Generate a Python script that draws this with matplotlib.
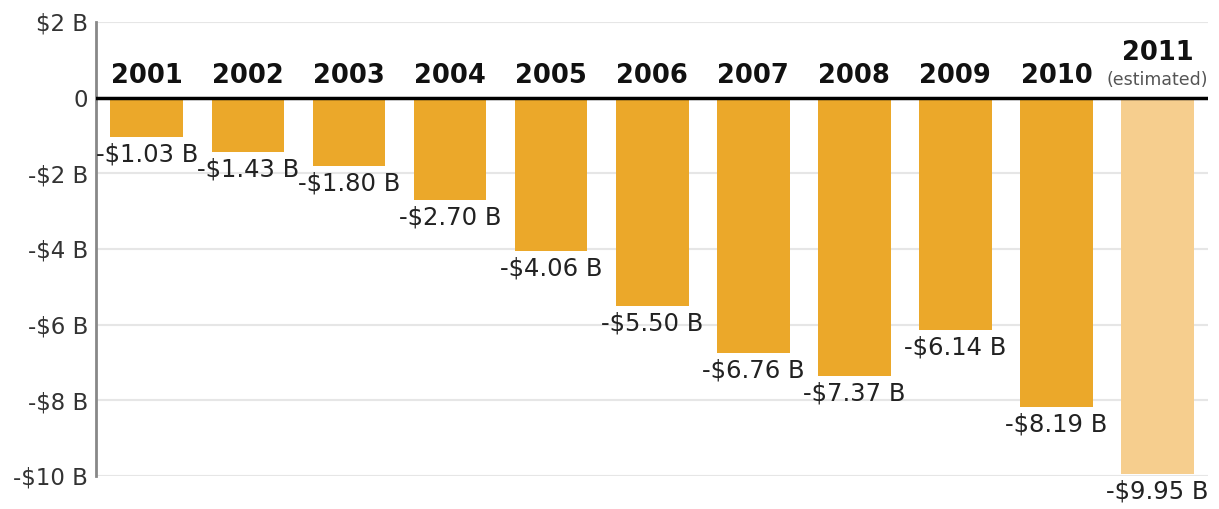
import matplotlib
matplotlib.use("Agg")
import matplotlib.pyplot as plt

years = ["2001", "2002", "2003", "2004", "2005", "2006", "2007", "2008", "2009", "2010", "2011"]
deficits = [-1.03, -1.43, -1.80, -2.70, -4.06, -5.50, -6.76, -7.37, -6.14, -8.19, -9.95]
estimated = [False] * 10 + [True]
yticks = [2, 0, -2, -4, -6, -8, -10]
ytick_labels = ["$2 B", "0", "-$2 B", "-$4 B", "-$6 B", "-$8 B", "-$10 B"]

BAR = "#EBA82A"
BAR_EST = "#F6CE8E"


def main():
    plt.rcParams['font.family'] = ['DejaVu Sans']
    fig = plt.figure(figsize=(12.19, 5.09), dpi=100)
    ax = fig.add_axes([0.079, 0.065, 0.912, 0.892])

    x = list(range(len(years)))
    colors = [BAR_EST if e else BAR for e in estimated]
    ax.bar(x, deficits, width=0.72, color=colors, zorder=2)

    ax.set_xlim(-0.5, 10.5)
    ax.set_ylim(-10, 2)
    ax.set_yticks(yticks)
    ax.set_yticklabels(ytick_labels, fontsize=16.5, color="#333333")
    ax.tick_params(axis="y", length=0, pad=6)
    ax.set_xticks([])
    for y in yticks:
        if y != 0:
            ax.axhline(y, color="#e6e6e6", lw=1.5, zorder=0)
    ax.axhline(0, color="black", lw=2.5, zorder=3)

    for s in ["top", "right", "bottom"]:
        ax.spines[s].set_visible(False)
    ax.spines["left"].set_color("#888888")
    ax.spines["left"].set_linewidth(2)

    for xi, v, yr, est in zip(x, deficits, years, estimated):
        ax.annotate("-$%.2f B" % abs(v), (xi, v), xytext=(0, -4),
                    textcoords="offset points", ha="center", va="top",
                    fontsize=17.5, color="#222222", annotation_clip=False)
        if est:
            ax.annotate(yr, (xi, 0), xytext=(0, 23), textcoords="offset points",
                        ha="center", va="bottom", fontsize=18.5,
                        fontweight="bold", color="#111111")
            ax.annotate("(estimated)", (xi, 0), xytext=(0, 6),
                        textcoords="offset points", ha="center", va="bottom",
                        fontsize=12.5, color="#555555", annotation_clip=False)
        else:
            ax.annotate(yr, (xi, 0), xytext=(0, 6), textcoords="offset points",
                        ha="center", va="bottom", fontsize=18.5,
                        fontweight="bold", color="#111111")

    fig.savefig("out.png", dpi=100)


if __name__ == '__main__':
    main()
